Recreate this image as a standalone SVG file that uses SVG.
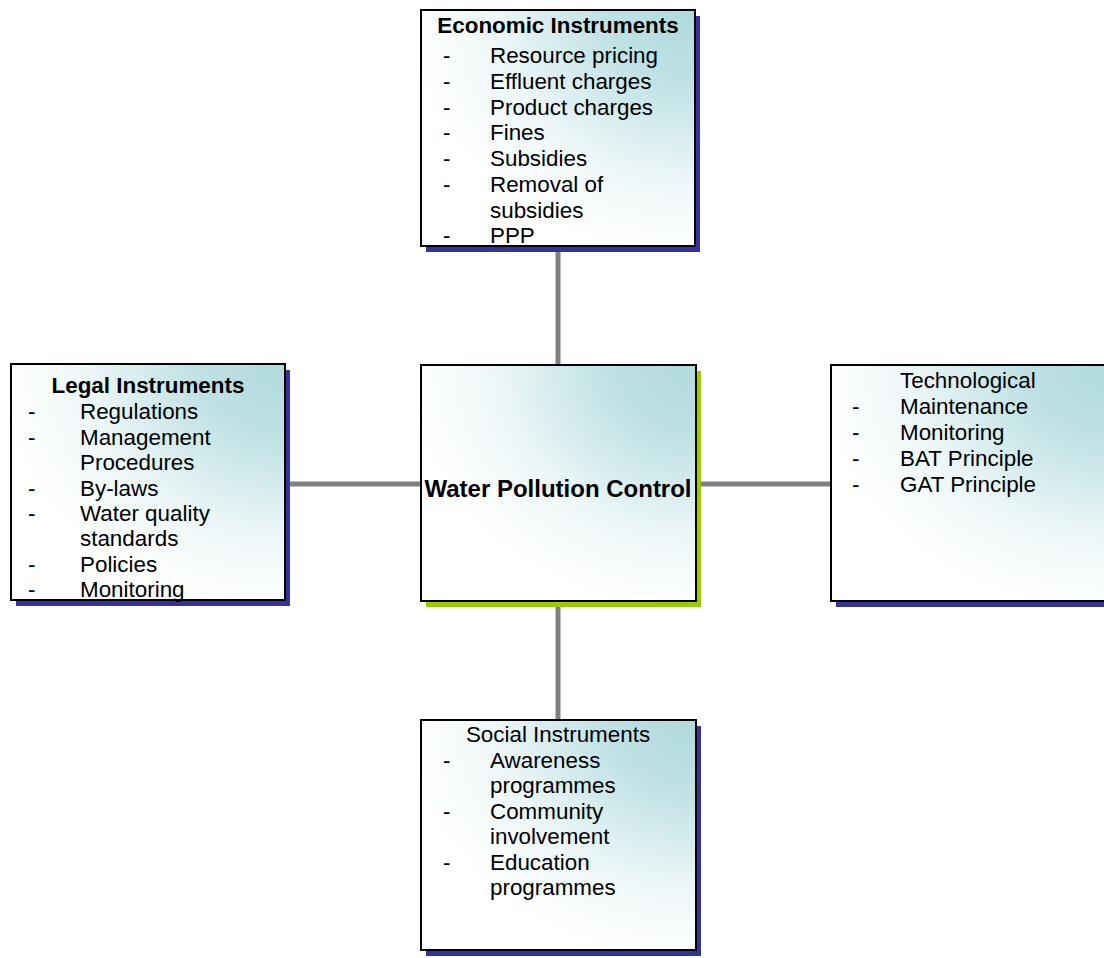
<svg xmlns="http://www.w3.org/2000/svg" width="1104" height="958" viewBox="0 0 1104 958">
<style>
.box{fill:url(#g);stroke:#000;stroke-width:2}
.sh{fill:#333399}
.shg{fill:#99cc00}
.t{font-family:"Liberation Sans",Arial,sans-serif;font-size:22.4px;fill:#000}
.b{font-weight:bold}
.c{stroke:#808080;stroke-width:5;fill:none}
</style>
<defs>
<radialGradient id="g" cx="1" cy="0" r="1.05">
<stop offset="0" stop-color="#b0dadd"/>
<stop offset="0.3" stop-color="#bfe1e4"/>
<stop offset="0.7" stop-color="#eef7f8"/>
<stop offset="1" stop-color="#ffffff"/>
</radialGradient>
</defs>
<rect width="1104" height="958" fill="#fff"/>
<g id="connectors">
<line class="c" x1="558" y1="246" x2="558" y2="365"/>
<line class="c" x1="558" y1="601" x2="558" y2="720"/>
<line class="c" x1="285" y1="484" x2="421" y2="484"/>
<line class="c" x1="696" y1="484" x2="831" y2="484"/>
</g>
<g id="economic">
<rect class="sh" x="426" y="16" width="274" height="236"/>
<rect class="box" x="421" y="10" width="274" height="236"/>
<text class="t b" x="558" y="33.3" text-anchor="middle">Economic Instruments</text>
<g class="t">
<text x="443" y="63.3">-</text><text x="490" y="63.3">Resource pricing</text>
<text x="443" y="89">-</text><text x="490" y="89">Effluent charges</text>
<text x="443" y="114.7">-</text><text x="490" y="114.7">Product charges</text>
<text x="443" y="140.4">-</text><text x="490" y="140.4">Fines</text>
<text x="443" y="166.1">-</text><text x="490" y="166.1">Subsidies</text>
<text x="443" y="191.8">-</text><text x="490" y="191.8">Removal of</text>
<text x="490" y="217.5">subsidies</text>
<text x="443" y="243.2">-</text><text x="490" y="243.2">PPP</text>
</g>
</g>
<g id="legal">
<rect class="sh" x="16" y="370" width="274" height="236"/>
<rect class="box" x="11" y="364" width="274" height="236"/>
<text class="t b" x="148" y="392.7" text-anchor="middle">Legal Instruments</text>
<g class="t">
<text x="28" y="419.3">-</text><text x="80" y="419.3">Regulations</text>
<text x="28" y="444.7">-</text><text x="80" y="444.7">Management</text>
<text x="80" y="470.1">Procedures</text>
<text x="28" y="495.5">-</text><text x="80" y="495.5">By-laws</text>
<text x="28" y="520.9">-</text><text x="80" y="520.9">Water quality</text>
<text x="80" y="546.3">standards</text>
<text x="28" y="571.7">-</text><text x="80" y="571.7">Policies</text>
<text x="28" y="597.1">-</text><text x="80" y="597.1">Monitoring</text>
</g>
</g>
<g id="center">
<rect class="shg" x="426" y="371" width="275" height="236"/>
<rect class="box" x="421" y="365" width="275" height="236"/>
<text class="t b" x="558" y="497" text-anchor="middle" style="font-size:24px">Water Pollution Control</text>
</g>
<g id="technological">
<rect class="sh" x="836" y="371" width="280" height="236"/>
<rect class="box" x="831" y="365" width="280" height="236"/>
<g class="t">
<text x="900" y="388.3">Technological</text>
<text x="852" y="414">-</text><text x="900" y="414">Maintenance</text>
<text x="852" y="440">-</text><text x="900" y="440">Monitoring</text>
<text x="852" y="466">-</text><text x="900" y="466">BAT Principle</text>
<text x="852" y="491.7">-</text><text x="900" y="491.7">GAT Principle</text>
</g>
</g>
<g id="social">
<rect class="sh" x="426" y="726" width="275" height="230"/>
<rect class="box" x="421" y="720" width="275" height="230"/>
<g class="t">
<text x="558" y="741.7" text-anchor="middle">Social Instruments</text>
<text x="443" y="767.5">-</text><text x="490" y="767.5">Awareness</text>
<text x="490" y="793">programmes</text>
<text x="443" y="818.5">-</text><text x="490" y="818.5">Community</text>
<text x="490" y="844">involvement</text>
<text x="443" y="869.5">-</text><text x="490" y="869.5">Education</text>
<text x="490" y="895">programmes</text>
</g>
</g>
</svg>
